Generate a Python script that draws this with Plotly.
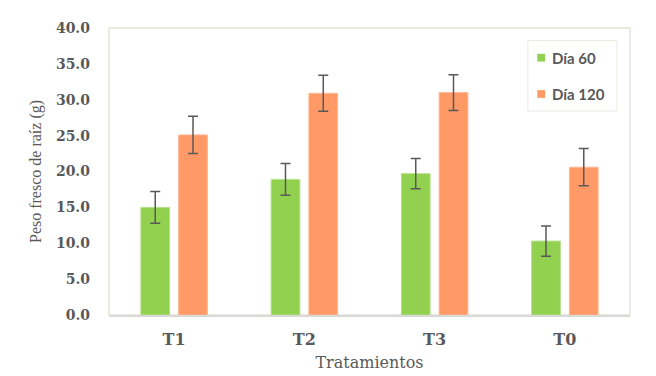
import plotly.graph_objects as go

categories = ["T1", "T2", "T3", "T0"]
dia60 = [15.0, 18.9, 19.7, 10.3]
dia60_err = [2.2, 2.2, 2.1, 2.1]
dia120 = [25.1, 30.9, 31.0, 20.6]
dia120_err = [2.6, 2.5, 2.5, 2.6]
series_names = ["Día 60", "Día 120"]
colors = ["#92D050", "#FF9966"]

gray = "#595959"
fig = go.Figure()
fig.add_trace(go.Bar(
    name=series_names[0], x=categories, y=dia60,
    marker=dict(color=colors[0], line=dict(color="#B5E08A", width=1)),
    error_y=dict(type="data", array=dia60_err, color=gray, thickness=1.5, width=5),
))
fig.add_trace(go.Bar(
    name=series_names[1], x=categories, y=dia120,
    marker=dict(color=colors[1], line=dict(color="#FFB894", width=1)),
    error_y=dict(type="data", array=dia120_err, color=gray, thickness=1.5, width=5),
))

# manual legend (Excel style)
shapes = [
    dict(type="rect", xref="paper", yref="paper", x0=0, y0=0, x1=1, y1=1,
         line=dict(color="#E6E3D6", width=1.5), fillcolor="rgba(0,0,0,0)", layer="below"),
    dict(type="rect", xref="paper", yref="paper", x0=0.804, x1=0.975, y0=0.711, y1=0.956,
         line=dict(color="#EAE8DF", width=1), fillcolor="white", layer="above"),
]
annotations = []
leg_y = [0.8965, 0.770]
for name, col, yy in zip(series_names, colors, leg_y):
    shapes.append(dict(type="rect", xref="paper", yref="paper", x0=0.822, x1=0.837,
                       y0=yy - 0.0135, y1=yy + 0.0135, line=dict(width=0), fillcolor=col, layer="above"))
    annotations.append(dict(xref="paper", yref="paper", x=0.846, y=yy, xanchor="left", yanchor="middle",
                            text=name, showarrow=False,
                            font=dict(family="Lato", size=15, color=gray, weight="bold")))

fig.update_layout(
    width=656, height=376,
    margin=dict(l=101, r=34, t=20, b=69),
    paper_bgcolor="white", plot_bgcolor="white",
    barmode="group", bargap=0.42, bargroupgap=0.239,
    font=dict(family="DejaVu Serif", color=gray, size=13),
    showlegend=False,
    xaxis=dict(
        showline=True, linecolor="#D9D9D9", linewidth=1.5, mirror=False,
        ticks="", tickfont=dict(family="DejaVu Serif", size=16, color=gray, weight="bold"),
        ticklabelstandoff=9,
        title=dict(text="Tratamientos", font=dict(family="DejaVu Serif", size=16, color=gray), standoff=9),
    ),
    yaxis=dict(
        range=[0, 40], dtick=5, tickformat=".1f",
        showgrid=False, zeroline=False, showline=False, ticks="",
        tickfont=dict(family="DejaVu Serif", size=14, color=gray, weight="bold"),
        ticklabelstandoff=18,
        title=dict(text="Peso fresco de raíz (g)", font=dict(family="Liberation Serif", size=16, color=gray), standoff=10),
    ),
    shapes=shapes,
    annotations=annotations,
)

fig.write_html("out.html")
